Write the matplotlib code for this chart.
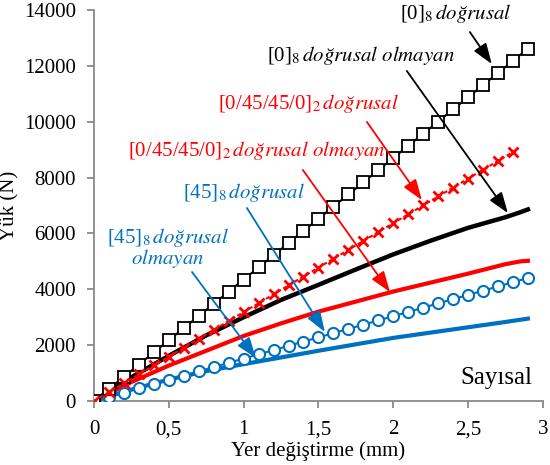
import matplotlib
matplotlib.use("Agg")
import matplotlib.pyplot as plt
import numpy as np

plt.rcParams["font.family"] = "Liberation Serif"
plt.rcParams["mathtext.fontset"] = "stix"

# linear (doğrusal) results, sampled every 0.1 mm
x_lin = [0.0, 0.1, 0.2, 0.3, 0.4, 0.5, 0.6, 0.7, 0.8, 0.9, 1.0, 1.1, 1.2, 1.3, 1.4,
         1.5, 1.6, 1.7, 1.8, 1.9, 2.0, 2.1, 2.2, 2.3, 2.4, 2.5, 2.6, 2.7, 2.8, 2.9]
y0_lin = [0, 435, 870, 1305, 1740, 2175, 2610, 3045, 3480, 3915, 4350, 4785, 5220,
          5655, 6090, 6525, 6960, 7395, 7830, 8265, 8700, 9135, 9570, 10005, 10440,
          10875, 11310, 11745, 12180, 12615]
y0450_lin = [0, 318, 637, 955, 1274, 1592, 1910, 2229, 2547, 2866, 3184, 3502, 3821,
             4139, 4458, 4776, 5094, 5413, 5731, 6050, 6368, 6686, 7005, 7323, 7642,
             7960, 8278, 8597, 8915]
y45_lin = [0, 152, 304, 456, 608, 760, 911, 1063, 1215, 1367, 1519, 1671, 1823, 1975,
           2127, 2279, 2430, 2582, 2734, 2886, 3038, 3190, 3342, 3494, 3646, 3798,
           3949, 4101, 4253, 4405]

# nonlinear (doğrusal olmayan) results
x_nl = [0.0, 0.25, 0.5, 0.75, 1.0, 1.25, 1.5, 1.75, 2.0, 2.25, 2.5, 2.75, 2.85, 2.9]
y0_nl = [0, 850, 1620, 2350, 3000, 3620, 4160, 4710, 5250, 5740, 6200, 6580, 6760, 6860]
y0450_nl = [0, 680, 1270, 1800, 2330, 2780, 3200, 3560, 3920, 4240, 4560, 4900, 5000, 5020]
y45_nl = [0, 410, 770, 1070, 1320, 1560, 1800, 2030, 2260, 2450, 2640, 2830, 2910, 2950]

BLACK = "#000000"
RED = "#FF0000"
BLUE = "#0070C0"
GREY = "#898989"

fig = plt.figure(figsize=(5.5, 4.65), dpi=100)
ax = fig.add_axes([0.171, 0.1376, 0.816, 0.8409])

ax.plot(x_nl, y45_nl, color=BLUE, lw=3.0, zorder=3)
ax.plot(x_nl, y0450_nl, color=RED, lw=3.0, zorder=3)
ax.plot(x_nl, y0_nl, color=BLACK, lw=3.2, zorder=3)

ax.plot(x_lin, y45_lin, color=BLUE, lw=1.5, marker="o", ms=8, mfc="white",
        mec=BLUE, mew=1.5, zorder=4)
ax.plot(x_lin, y0_lin, color=BLACK, lw=1.5, marker="s", ms=8.5, mfc="white",
        mec=BLACK, mew=1.3, zorder=4)
ax.plot(x_lin[:len(y0450_lin)], y0450_lin, color=RED, lw=1.5, ls=(0, (2, 1.2)),
        marker="x", ms=7, mec=RED, mew=2, zorder=5)

ax.set_xlim(0, 3)
ax.set_ylim(0, 14000)
ax.set_xticks([0, 0.5, 1, 1.5, 2, 2.5, 3])
ax.set_xticklabels(["0", "0,5", "1", "1,5", "2", "2,5", "3"])
ax.set_yticks(np.arange(0, 14001, 2000))

for side in ["top", "right"]:
    ax.spines[side].set_visible(False)
for side in ["left", "bottom"]:
    ax.spines[side].set_color(GREY)
    ax.spines[side].set_linewidth(1.3)
ax.tick_params(axis="both", direction="out", length=5, width=1.3, color=GREY,
               labelsize=15)
ax.tick_params(axis="x", pad=9)
ax.tick_params(axis="y", pad=8)
ax.set_xlabel("Yer değiştirme (mm)", fontsize=15, labelpad=1)
ax.set_ylabel("Yük (N)", fontsize=15, labelpad=3)

# annotations: (text, color, text pos, arrow start, arrow tip)
notes = [
    (r"[0]$_8\,\mathit{doğrusal}$", BLACK, (2.044, 13857), (2.512, 13212), (2.659, 12066)),
    (r"[0]$_8\,\mathit{doğrusal\ olmayan}$", BLACK, (1.156, 12388), (2.091, 11816), (2.766, 6731)),
    (r"[0/45/45/0]$_2\,\mathit{doğrusal}$", RED, (0.828, 10670), (1.824, 9990), (2.191, 7197)),
    (r"[0/45/45/0]$_2\,\mathit{doğrusal\ olmayan}$", RED, (0.227, 8987), (1.396, 8271), (1.978, 3903)),
    (r"[45]$_8\,\mathit{doğrusal}$", BLUE, (0.595, 7483), (1.022, 6910), (1.543, 2471)),
    (r"[45]$_8\,\mathit{doğrusal}$", BLUE, (0.087, 5872), (0.655, 4619), (1.082, 1540)),
]
for label, col, tpos, start, tip in notes:
    ax.text(tpos[0], tpos[1], label, color=col, fontsize=15, ha="left", va="center",
            zorder=6)
    ax.annotate("", xy=tip, xytext=start, zorder=6,
                arrowprops=dict(arrowstyle="-|>,head_length=0.7,head_width=0.25",
                                color=col, lw=1.3, shrinkA=0, shrinkB=0,
                                mutation_scale=18))
ax.text(0.494, 5120, r"$\mathit{olmayan}$", color=BLUE, fontsize=15, ha="center",
        va="center", zorder=6)

ax.text(2.933, 823, "Sayısal", fontsize=18, ha="right", va="center")

fig.savefig("out.png", dpi=100)
